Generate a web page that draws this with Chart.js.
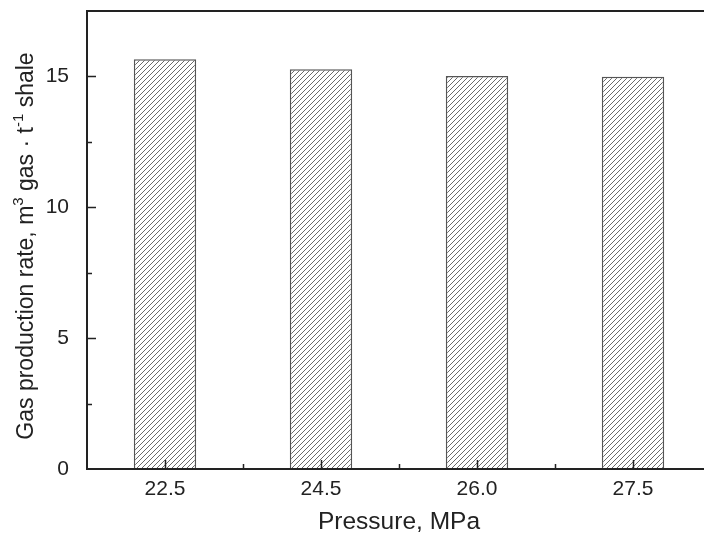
<!DOCTYPE html>
<html>
<head>
<meta charset="utf-8">
<script src="https://cdn.jsdelivr.net/npm/chart.js@4.4.1/dist/chart.umd.min.js"></script>
<style>
  html, body { margin: 0; padding: 0; background: #fff; overflow: hidden; }
  #wrap { width: 704px; height: 541px; overflow: hidden; }
</style>
</head>
<body>
<div id="wrap"><canvas id="chart" width="712" height="541"></canvas></div>
<script>
const pressures = ['22.5', '24.5', '26.0', '27.5'];
const gasRates = [15.66, 15.27, 15.02, 14.99];
const yTicks = [0, 5, 10, 15];
const yMinorTicks = [2.5, 7.5, 12.5];

const FONT = '"Liberation Sans", Arial, Helvetica, sans-serif';
const INK = '#222';

// diagonal hatch fill for the bars
function makeHatch() {
    const size = 5;
    const c = document.createElement('canvas');
    c.width = size;
    c.height = size;
    const g = c.getContext('2d');
    g.fillStyle = '#fff';
    g.fillRect(0, 0, size, size);
    g.strokeStyle = '#444';
    g.lineWidth = 0.8;
    for (let k = 0; k <= 2; k++) {
        const s = k * size;
        g.beginPath();
        g.moveTo(s + 0.5, -0.5);
        g.lineTo(s - size - 0.5, size + 0.5);
        g.stroke();
    }
    return g.createPattern(c, 'repeat');
}

// frame (left, bottom, top) plus inward tick marks
const frameTicks = {
    id: 'frameTicks',
    afterDatasetsDraw(chart) {
        const { ctx, chartArea: a, scales: { x, y } } = chart;
        ctx.save();
        ctx.strokeStyle = INK;
        ctx.lineWidth = 2;
        ctx.beginPath();
        ctx.moveTo(a.right + 2, a.top);
        ctx.lineTo(a.left, a.top);
        ctx.lineTo(a.left, a.bottom);
        ctx.lineTo(a.right + 2, a.bottom);
        ctx.stroke();

        ctx.lineWidth = 1.5;
        ctx.beginPath();
        yTicks.forEach(v => {
            const py = Math.round(y.getPixelForValue(v)) + 0.5;
            if (v === 0) return;
            ctx.moveTo(a.left, py);
            ctx.lineTo(a.left + 9, py);
        });
        yMinorTicks.forEach(v => {
            const py = Math.round(y.getPixelForValue(v)) + 0.5;
            ctx.moveTo(a.left, py);
            ctx.lineTo(a.left + 5, py);
        });
        pressures.forEach((p, i) => {
            const px = Math.round(x.getPixelForValue(i)) + 0.5;
            ctx.moveTo(px, a.bottom);
            ctx.lineTo(px, a.bottom - 9);
            if (i < pressures.length - 1) {
                const mx = Math.round((x.getPixelForValue(i) + x.getPixelForValue(i + 1)) / 2) + 0.5;
                ctx.moveTo(mx, a.bottom);
                ctx.lineTo(mx, a.bottom - 5);
            }
        });
        ctx.stroke();
        ctx.restore();
    }
};

// rotated y title with superscripts
const yTitle = {
    id: 'yTitle',
    afterDraw(chart) {
        const { ctx, chartArea: a } = chart;
        const parts = [
            ['Gas production rate, m', false],
            ['3', true],
            [' gas \u00b7 t', false],
            ['-1', true],
            [' shale', false]
        ];
        const big = '23px ' + FONT;
        const small = '15px ' + FONT;
        ctx.save();
        let total = 0;
        parts.forEach(([t, sup]) => {
            ctx.font = sup ? small : big;
            total += ctx.measureText(t).width;
        });
        ctx.translate(27, (a.top + a.bottom) / 2 + 6);
        ctx.rotate(-Math.PI / 2);
        ctx.fillStyle = INK;
        ctx.textBaseline = 'middle';
        let cx = -total / 2;
        parts.forEach(([t, sup]) => {
            ctx.font = sup ? small : big;
            ctx.fillText(t, cx, sup ? -8 : 0);
            cx += ctx.measureText(t).width;
        });
        ctx.restore();
    }
};

new Chart(document.getElementById('chart'), {
    type: 'bar',
    data: {
        labels: pressures,
        datasets: [{
            data: gasRates,
            backgroundColor: makeHatch(),
            borderColor: '#555',
            borderWidth: 1.5,
            categoryPercentage: 1,
            barPercentage: 0.4
        }]
    },
    options: {
        responsive: false,
        animation: false,
        layout: { padding: { top: 11, right: 1, left: 0, bottom: 0 } },
        plugins: { legend: { display: false }, tooltip: { enabled: false } },
        scales: {
            x: {
                grid: { display: false },
                border: { display: false },
                ticks: { color: INK, font: { family: FONT, size: 21 }, padding: 0 },
                title: {
                    display: true,
                    text: 'Pressure, MPa',
                    color: INK,
                    font: { family: FONT, size: 24.5 },
                    padding: { top: 0, bottom: 4 }
                },
                afterFit(scale) {
                    scale.height = 72;
                    scale.paddingLeft = 0;
                    scale.paddingRight = 0;
                }
            },
            y: {
                min: 0,
                max: 17.5,
                grid: { display: false },
                border: { display: false },
                ticks: { color: INK, font: { family: FONT, size: 21 }, padding: 10 },
                afterBuildTicks(scale) { scale.ticks = yTicks.map(v => ({ value: v })); },
                afterFit(scale) {
                    scale.width = 87;
                    scale.paddingTop = 0;
                    scale.paddingBottom = 0;
                }
            }
        }
    },
    plugins: [frameTicks, yTitle]
});
</script>
</body>
</html>
